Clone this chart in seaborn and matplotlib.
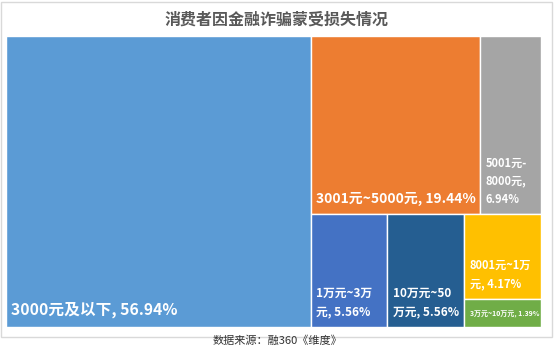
import seaborn as sns
import matplotlib.pyplot as plt
from matplotlib.patches import Rectangle

sns.set_theme(style="white")
plt.rcParams['font.family'] = ['Noto Sans CJK SC', 'DejaVu Sans']

# loss brackets and share of consumers (%)
labels = ["3000元及以下, 56.94%", "3001元~5000元, 19.44%", "5001元-\n8000元,\n6.94%",
          "1万元~3万\n元, 5.56%", "10万元~50\n万元, 5.56%", "8001元~1万\n元, 4.17%",
          "3万元~10万元, 1.39%"]
values = [56.94, 19.44, 6.94, 5.56, 5.56, 4.17, 1.39]
colors = ["#5B9BD5", "#ED7D31", "#A5A5A5", "#4472C4", "#255E91", "#FFC000", "#70AD47"]
font_sizes = [11.3, 10, 8, 8.5, 8.5, 8, 5]

# nesting of the tiles (indices into the lists above)
tree = [0, [[1, 2], [3, 4, [5, 6]]]]


def total(node):
    if isinstance(node, list):
        return sum(total(n) for n in node)
    return values[node]


def layout(node, x, y, w, h, horizontal, out):
    if not isinstance(node, list):
        out[node] = (x, y, w, h)
        return
    s = total(node)
    pos = 0.0
    for child in node:
        frac = total(child) / s
        if horizontal:
            layout(child, x + pos * w, y, frac * w, h, not horizontal, out)
        else:
            # stack from the top down
            layout(child, x, y + (1 - pos - frac) * h, w, frac * h, not horizontal, out)
        pos += frac


rects = {}
layout(tree, 0, 0, 1, 1, True, rects)

fig = plt.figure(figsize=(5.54, 3.51), dpi=100)
# light frame round the chart
fig.patches.append(Rectangle((0.002, 0.04), 0.994, 0.955, transform=fig.transFigure,
                             facecolor="none", edgecolor="#D9D9D9", linewidth=1))
ax = fig.add_axes([6 / 554, 24 / 351, 535 / 554, 291 / 351])
ax.set_xlim(0, 1)
ax.set_ylim(0, 1)
ax.axis("off")

for i, (x, y, w, h) in rects.items():
    ax.add_patch(Rectangle((x, y), w, h, facecolor=colors[i], edgecolor="white", linewidth=1))
    ax.text(x + 0.01, y + 0.03, labels[i], color="white", fontsize=font_sizes[i],
            fontweight="bold", ha="left", va="bottom", linespacing=1.5)

fig.text(0.5, 0.945, "消费者因金融诈骗蒙受损失情况", ha="center", va="center",
         fontsize=11.5, color="#595959", fontweight="bold")
fig.text(0.5, 0.03, "数据来源：融360《维度》", ha="center", va="center",
         fontsize=8, color="#333333")

fig.savefig("out.png", dpi=100)
